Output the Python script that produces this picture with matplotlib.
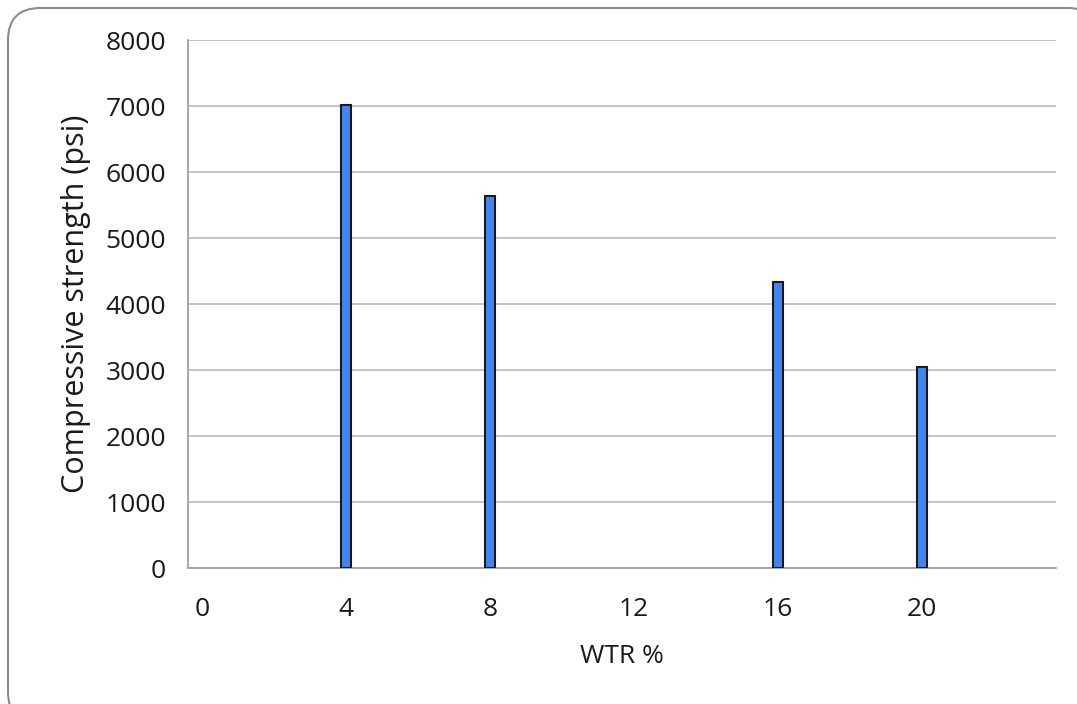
import matplotlib.pyplot as plt
from matplotlib.patches import FancyBboxPatch

wtr = [4, 8, 16, 20]
strength = [7020, 5630, 4340, 3050]
xticks = [0, 4, 8, 12, 16, 20]
yticks = [0, 1000, 2000, 3000, 4000, 5000, 6000, 7000, 8000]

plt.rcParams['font.family'] = ['Open Sans', 'DejaVu Sans']

fig = plt.figure(figsize=(10.77, 7.04), dpi=100)
W, H = 1077, 704
ax = fig.add_axes([188 / W, 1 - 568 / H, (1056 - 188) / W, (568 - 40) / H])

# rounded chart-area frame, running off the right and bottom edges
frame = FancyBboxPatch((8 / W, -20 / H), (1100 - 8) / W, (696 + 20) / H,
                       boxstyle='round,pad=0,rounding_size=0.03',
                       transform=fig.transFigure, facecolor='white',
                       edgecolor='#8c8c8c', linewidth=1.5, zorder=-10,
                       mutation_aspect=W / H)
fig.patches.append(frame)
ax.set_facecolor('none')

ax.bar(wtr, strength, width=0.28, color='#4287f0', edgecolor='#1a1a1a',
       linewidth=1.5, zorder=3)

ax.set_xlim(-0.39, 23.72)
ax.set_ylim(0, 8000)
ax.set_xticks(xticks)
ax.set_yticks(yticks)
ax.yaxis.grid(True, color='#c0c0c0', linewidth=1.3, zorder=0)
ax.tick_params(length=0, labelsize=19, colors='#1a1a1a')
ax.tick_params(axis='y', pad=16)
ax.tick_params(axis='x', pad=21)
for s in ['top', 'right']:
    ax.spines[s].set_visible(False)
for s in ['left', 'bottom']:
    ax.spines[s].set_color('#a0a0a0')
    ax.spines[s].set_linewidth(1.3)

ax.set_ylabel('Compressive strength (psi)', fontsize=22, color='#1a1a1a', labelpad=10)
ax.set_xlabel('WTR %', fontsize=19, color='#1a1a1a', labelpad=16)

plt.savefig('out.png', dpi=100)
